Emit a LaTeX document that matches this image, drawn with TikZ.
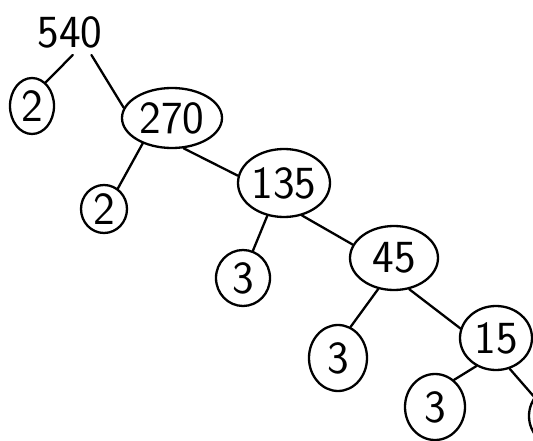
\documentclass[tikz,border=0pt]{standalone}
\usetikzlibrary{shapes.geometric}
\begin{document}
\begin{tikzpicture}[x=1pt,y=-1pt, line width=2.3pt,
  num/.style={font=\sffamily\fontsize{46}{46}\selectfont, inner sep=0pt},
  oval/.style={num, draw, ellipse},
  link/.style={line cap=round}]
\clip (0,0) rectangle (533,441);
\fill[white] (0,0) rectangle (533,441);
\node[num, inner sep=6pt] (n540) at (70,32) {540};
\node[oval, minimum width=44, minimum height=56] (c2a) at (32,106) {2};
\node[oval, minimum width=100, minimum height=60] (o270) at (172,118) {270};
\node[oval, minimum width=46, minimum height=48] (c2b) at (104,209) {2};
\node[oval, minimum width=92, minimum height=68] (o135) at (284,183) {135};
\node[oval, minimum width=54, minimum height=56] (c3a) at (243,278) {3};
\node[oval, minimum width=88, minimum height=64] (o45) at (394,258) {45};
\node[oval, minimum width=58, minimum height=66] (c3b) at (338,358) {3};
\node[oval, minimum width=72, minimum height=64] (o15) at (496,338) {15};
\node[oval, minimum width=60, minimum height=66] (c3c) at (435,407) {3};
\node[oval, minimum width=56, minimum height=60] (cr) at (557,416) {};
\draw[link] (n540.-83) -- (c2a.60);
\draw[link] (n540.-47) -- (o270.168);
\draw[link] (o270.221) -- (c2b.56);
\draw[link] (o270.-69) -- (o135.171);
\draw[link] (o135.243) -- (c3a.70);
\draw[link] (o135.-61) -- (o45.162);
\draw[link] (o45.243) -- (c3b.68);
\draw[link] (o45.-64) -- (o15.165);
\draw[link] (o15.235) -- (c3c.55);
\draw[link] (o15.-66) -- (cr.140);
\end{tikzpicture}
\end{document}
